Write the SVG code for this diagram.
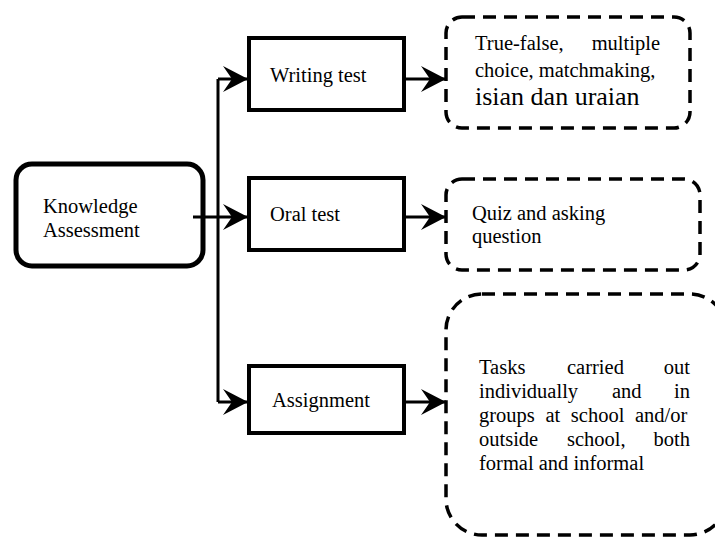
<svg xmlns="http://www.w3.org/2000/svg" width="715" height="538" viewBox="0 0 715 538">
<style>
text{font-family:"Liberation Serif","Times New Roman",serif;font-size:20.5px;fill:#000}
.box{fill:#fff;stroke:#000;stroke-width:4}
.dash{fill:#fff;stroke:#000;stroke-width:3.5;stroke-dasharray:13 8}
.conn{fill:none;stroke:#000;stroke-width:3}
</style>
<defs>
<marker id="ah" markerUnits="userSpaceOnUse" markerWidth="28" markerHeight="30" refX="25" refY="14" orient="auto">
<path d="M25,14 L0,1 L9,14 L0,27 Z" fill="#000"/>
</marker>
</defs>
<rect width="715" height="538" fill="#fff"/>
<g id="connectors">
<path class="conn" d="M218,79 L218,402"/>
<path class="conn" d="M218,79 L248,79" marker-end="url(#ah)"/>
<path class="conn" d="M193,217 L248,217" marker-end="url(#ah)"/>
<path class="conn" d="M218,402 L248,402" marker-end="url(#ah)"/>
<path class="conn" d="M404,79 L446,79" marker-end="url(#ah)"/>
<path class="conn" d="M404,217 L446,217" marker-end="url(#ah)"/>
<path class="conn" d="M404,402 L446,402" marker-end="url(#ah)"/>
</g>
<g id="knowledge">
<rect x="16" y="164" width="187" height="102" rx="16" fill="none" stroke="#000" stroke-width="5"/>
<text x="43" y="213">Knowledge</text>
<text x="43" y="237">Assessment</text>
</g>
<g id="writing">
<rect class="box" x="249" y="38" width="155" height="72"/>
<text x="270" y="82">Writing test</text>
</g>
<g id="oral">
<rect class="box" x="249" y="178" width="155" height="72"/>
<text x="270" y="221">Oral test</text>
</g>
<g id="assignment">
<rect class="box" x="249" y="366" width="155" height="67"/>
<text x="272" y="407">Assignment</text>
</g>
<g id="writing-detail">
<rect class="dash" x="446" y="17" width="244" height="111" rx="16"/>
<text x="475" y="50">True-false,</text>
<text x="660" y="50" text-anchor="end">multiple</text>
<text x="475" y="77">choice, matchmaking,</text>
<text x="475" y="105" style="font-size:26px">isian dan uraian</text>
</g>
<g id="oral-detail">
<rect class="dash" x="446" y="179" width="254" height="91" rx="16"/>
<text x="472" y="220">Quiz and asking</text>
<text x="472" y="243">question</text>
</g>
<g id="assignment-detail">
<rect class="dash" x="446" y="294" width="280" height="241" rx="36"/>
<text x="479" y="374">Tasks</text>
<text x="567" y="374">carried</text>
<text x="690" y="374" text-anchor="end">out</text>
<text x="479" y="398">individually</text>
<text x="612" y="398">and</text>
<text x="690" y="398" text-anchor="end">in</text>
<text x="479" y="422" word-spacing="5.5">groups at school and/or</text>
<text x="479" y="446">outside</text>
<text x="567" y="446">school,</text>
<text x="690" y="446" text-anchor="end">both</text>
<text x="479" y="470">formal and informal</text>
</g>
</svg>
